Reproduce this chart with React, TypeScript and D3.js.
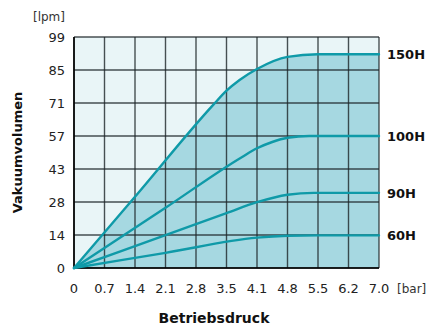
import React, { useRef, useEffect } from 'react';
import * as d3 from 'd3';

const WIDTH = 430;
const HEIGHT = 325;
const M = { left: 74, right: 51, top: 37, bottom: 57 };

const xTickLabels = ['0', '0.7', '1.4', '2.1', '2.8', '3.5', '4.1', '4.8', '5.5', '6.2', '7.0'];
const yTickLabels = ['0', '14', '28', '43', '57', '71', '85', '99'];

const seriesNames = ['150H', '100H', '90H', '60H'];

// pressure [bar] / volume [lpm]
const bar150 = [0, 1.4, 3.2, 3.5, 3.8, 4.2, 4.9, 5.6, 7.0];
const lpm150 = [0, 30.5, 70, 76, 80.6, 85.3, 90.5, 91.6, 91.6];
const bar100 = [0, 2.1, 3.85, 4.2, 4.55, 4.9, 5.4, 7.0];
const lpm100 = [0, 25.8, 47.5, 51.3, 54, 55.8, 56.6, 56.6];
const bar90 = [0, 2.1, 3.5, 4.2, 4.9, 5.5, 7.0];
const lpm90 = [0, 14.1, 23.5, 28.2, 31.4, 32.2, 32.2];
const bar60 = [0, 2.1, 4.2, 4.9, 5.6, 7.0];
const lpm60 = [0, 6.5, 13.0, 13.8, 14.0, 14.0];

const LINE = '#0f9aa8';
const FILL = '#a6d8e1';
const BG = '#e9f5f7';
const GRID = '#1d2628';
const FONT = 'DejaVu Sans, sans-serif';

export default function App() {
  const svgRef = useRef<SVGSVGElement>(null);

  useEffect(() => {
    if (!svgRef.current) return;
    const svg = d3.select(svgRef.current);
    svg.selectAll('*').remove();

    const x = d3.scaleLinear().domain([0, 7]).range([M.left, WIDTH - M.right]);
    const y = d3.scaleLinear().domain([0, 99]).range([HEIGHT - M.bottom, M.top]);
    const xStep = 7 / (xTickLabels.length - 1);
    const yStep = 99 / (yTickLabels.length - 1);

    const series = [
      { name: seriesNames[0], pts: bar150.map((b, i) => [b, lpm150[i]] as [number, number]) },
      { name: seriesNames[1], pts: bar100.map((b, i) => [b, lpm100[i]] as [number, number]) },
      { name: seriesNames[2], pts: bar90.map((b, i) => [b, lpm90[i]] as [number, number]) },
      { name: seriesNames[3], pts: bar60.map((b, i) => [b, lpm60[i]] as [number, number]) },
    ];

    // background
    svg.append('rect')
      .attr('x', x(0)).attr('y', y(99))
      .attr('width', x(7) - x(0)).attr('height', y(0) - y(99))
      .attr('fill', BG);

    // area under the largest curve
    const area = d3.area<[number, number]>()
      .x(d => x(d[0])).y0(y(0)).y1(d => y(d[1]))
      .curve(d3.curveMonotoneX);
    svg.append('path').attr('d', area(series[0].pts) ?? '').attr('fill', FILL);

    // grid
    const grid = svg.append('g').attr('stroke', GRID).attr('stroke-width', 1.4).attr('stroke-opacity', 0.8);
    xTickLabels.forEach((_, i) => {
      grid.append('line')
        .attr('x1', x(i * xStep)).attr('x2', x(i * xStep))
        .attr('y1', y(0)).attr('y2', y(99));
    });
    yTickLabels.forEach((_, i) => {
      grid.append('line')
        .attr('x1', x(0)).attr('x2', x(7))
        .attr('y1', y(i * yStep)).attr('y2', y(i * yStep));
    });

    // axes
    svg.append('line').attr('x1', x(0)).attr('x2', x(0)).attr('y1', y(0)).attr('y2', y(99))
      .attr('stroke', '#000').attr('stroke-width', 1.6);
    svg.append('line').attr('x1', x(0)).attr('x2', x(7)).attr('y1', y(0)).attr('y2', y(0))
      .attr('stroke', '#000').attr('stroke-width', 1.6);

    // curves
    const line = d3.line<[number, number]>()
      .x(d => x(d[0])).y(d => y(d[1]))
      .curve(d3.curveMonotoneX);
    series.forEach(s => {
      svg.append('path').attr('d', line(s.pts) ?? '')
        .attr('fill', 'none').attr('stroke', LINE).attr('stroke-width', 2.4)
        .attr('stroke-linecap', 'round');
      const last = s.pts[s.pts.length - 1];
      svg.append('text')
        .attr('x', x(7) + 8).attr('y', y(last[1])).attr('dy', '0.36em')
        .attr('font-family', FONT).attr('font-size', '13px').attr('font-weight', 'bold')
        .attr('fill', '#111').text(s.name);
    });

    // tick labels
    xTickLabels.forEach((t, i) => {
      svg.append('text')
        .attr('x', x(i * xStep)).attr('y', y(0) + 25)
        .attr('text-anchor', 'middle')
        .attr('font-family', FONT).attr('font-size', '13px').attr('fill', '#222')
        .text(t);
    });
    yTickLabels.forEach((t, i) => {
      svg.append('text')
        .attr('x', x(0) - 9).attr('y', y(i * yStep)).attr('dy', '0.36em')
        .attr('text-anchor', 'end')
        .attr('font-family', FONT).attr('font-size', '13px').attr('fill', '#222')
        .text(t);
    });

    // units
    svg.append('text').attr('x', x(0) - 9).attr('y', 21).attr('text-anchor', 'end')
      .attr('font-family', FONT).attr('font-size', '12px').attr('fill', '#333').text('[lpm]');
    svg.append('text').attr('x', x(7) + 18).attr('y', y(0) + 25)
      .attr('font-family', FONT).attr('font-size', '12px').attr('fill', '#333').text('[bar]');

    // axis titles
    svg.append('text').attr('x', 214).attr('y', 323).attr('text-anchor', 'middle')
      .attr('font-family', FONT).attr('font-size', '14px').attr('font-weight', 'bold')
      .attr('fill', '#111').text('Betriebsdruck');
    svg.append('text')
      .attr('transform', `translate(22, ${(y(0) + y(99)) / 2}) rotate(-90)`)
      .attr('text-anchor', 'middle')
      .attr('font-family', FONT).attr('font-size', '13px').attr('font-weight', 'bold')
      .attr('fill', '#111').text('Vakuumvolumen');
  }, []);

  return (
    <svg ref={svgRef} width={WIDTH} height={HEIGHT}
      style={{ position: 'absolute', left: 0, top: 0, background: '#fff' }} />
  );
}
